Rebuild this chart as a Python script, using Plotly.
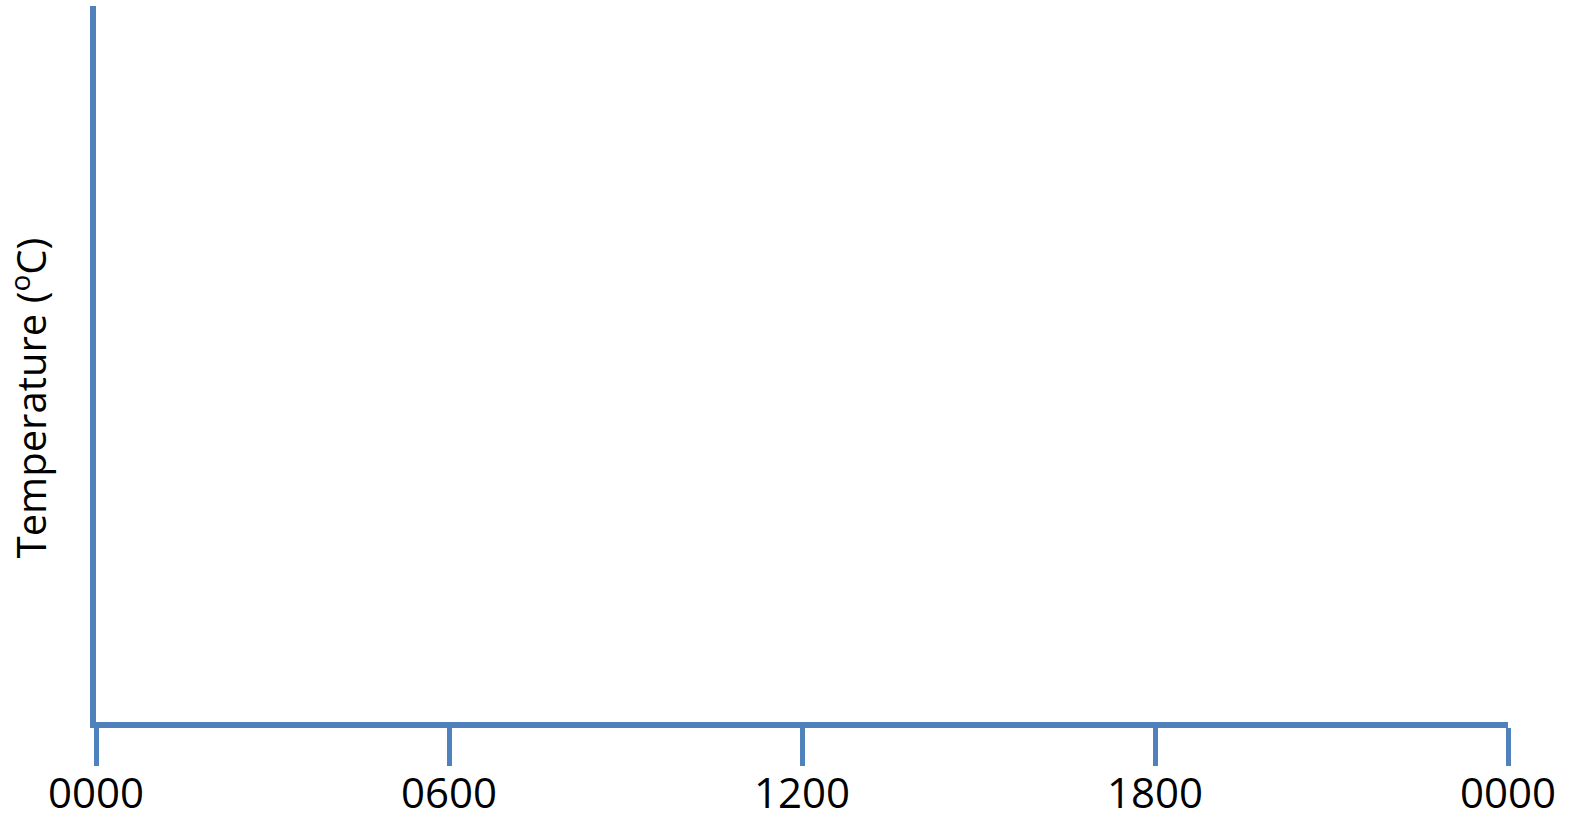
import plotly.graph_objects as go

# Time axis (hours) and tick labels
hours = [0, 6, 12, 18, 24]
hour_labels = ["0000", "0600", "1200", "1800", "0000"]

# Temperature series (empty in the reference chart)
temp_x = []
temp_y = []

y_title = "Temperature (<sup>o</sup>C)"
line_color = "#4F81BD"

fig = go.Figure()
fig.add_trace(go.Scatter(x=temp_x, y=temp_y, mode="lines",
                         line=dict(color=line_color, width=4), showlegend=False))

fig.update_layout(
    template="none",
    width=1576, height=819,
    margin=dict(l=96, r=68, t=6, b=97, autoexpand=False),
    paper_bgcolor="white", plot_bgcolor="white",
    showlegend=False,
    font=dict(family="Open Sans, Liberation Sans, sans-serif", color="black"),
)
fig.update_xaxes(
    automargin=False,
    range=[hours[0], hours[-1]],
    tickmode="array", tickvals=hours, ticktext=hour_labels,
    showgrid=False, zeroline=False,
    showline=True, linecolor=line_color, linewidth=6,
    ticks="outside", ticklen=38, tickwidth=5, tickcolor=line_color,
    tickfont=dict(size=42, color="black"),
    ticklabelstandoff=-8,
)
fig.update_yaxes(
    automargin=False,
    range=[0, 1],
    showgrid=False, zeroline=False, showticklabels=False,
    showline=True, linecolor=line_color, linewidth=6,
    ticks="",
)
fig.add_annotation(
    text=y_title, textangle=-90,
    xref="paper", yref="paper", x=0, y=0.452,
    xanchor="center", yanchor="middle", xshift=-67,
    showarrow=False, font=dict(size=40, color="black"),
)

fig.write_html("out.html", config={"displayModeBar": False},
               post_script="document.body.style.margin='0';document.body.style.overflow='hidden';")
